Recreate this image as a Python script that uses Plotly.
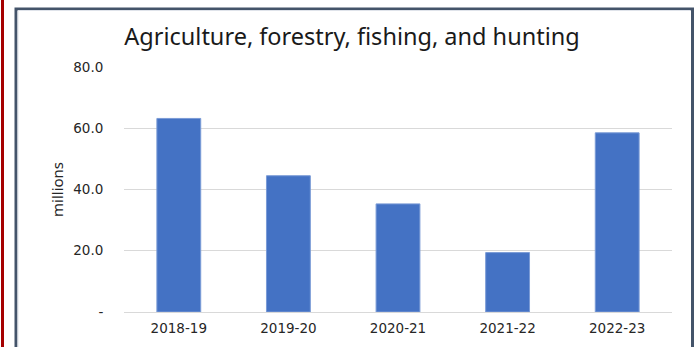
import plotly.graph_objects as go

categories = ["2018-19", "2019-20", "2020-21", "2021-22", "2022-23"]
values = [63.2, 44.5, 35.3, 19.4, 58.5]
tick_vals = [0, 20, 40, 60, 80]
tick_text = ["-", "20.0", "40.0", "60.0", "80.0"]

W, H = 697, 347
L, R, T, B = 124, 25, 67, 35
pw, ph = W - L - R, H - T - B

def px(x):
    return (x - L) / pw

def py(y):
    return (H - B - y) / ph

fig = go.Figure(go.Bar(
    x=categories, y=values,
    marker=dict(color="#4472C4", line=dict(color="#7a9bd6", width=1)),
    width=0.4,
))

fig.update_layout(
    width=W, height=H,
    margin=dict(l=L, r=R, t=T, b=B),
    paper_bgcolor="white", plot_bgcolor="white",
    showlegend=False,
    font=dict(family="DejaVu Sans", color="#262626"),
    title=dict(text="Agriculture, forestry, fishing, and hunting",
               xref="container", yref="container",
               x=352 / W, xanchor="center", y=1 - 37 / H, yanchor="middle",
               font=dict(size=23.5, family="Noto Sans", color="#1a1a1a")),
    xaxis=dict(showgrid=False, showline=False, ticks="outside", ticklen=4,
               tickcolor="rgba(0,0,0,0)",
               tickfont=dict(size=13.5, family="DejaVu Sans", color="#262626")),
    yaxis=dict(range=[0, 80], tickvals=tick_vals, ticktext=tick_text,
               showgrid=True, gridcolor="#d9d9d9", gridwidth=1,
               zeroline=True, zerolinecolor="#d9d9d9", zerolinewidth=1,
               showline=False, ticks="outside", ticklen=17,
               tickcolor="rgba(0,0,0,0)",
               tickfont=dict(size=13.5, family="DejaVu Sans", color="#262626")),
    annotations=[
        dict(text="millions", xref="paper", yref="paper",
             x=px(57), y=py(190), xanchor="center", yanchor="middle",
             textangle=-90, showarrow=False,
             font=dict(size=15, family="Noto Sans", color="#262626")),
    ],
    shapes=[
        dict(type="line", xref="paper", yref="paper",
             x0=px(2.5), x1=px(2.5), y0=py(-5), y1=py(360),
             line=dict(color="#A50000", width=3)),
        dict(type="rect", xref="paper", yref="paper",
             x0=px(16), x1=px(692.5), y0=py(9), y1=py(380),
             line=dict(color="#44546A", width=3)),
        dict(type="line", xref="paper", yref="paper",
             x0=px(18), x1=px(18), y0=py(10.5), y1=py(360),
             line=dict(color="#dfe3ea", width=1)),
        dict(type="line", xref="paper", yref="paper",
             x0=px(18), x1=px(690.5), y0=py(10.5), y1=py(10.5),
             line=dict(color="#dfe3ea", width=1)),
    ],
)

fig.write_html("out.html", config={"displayModeBar": False},
               post_script="document.body.style.margin='0';")
